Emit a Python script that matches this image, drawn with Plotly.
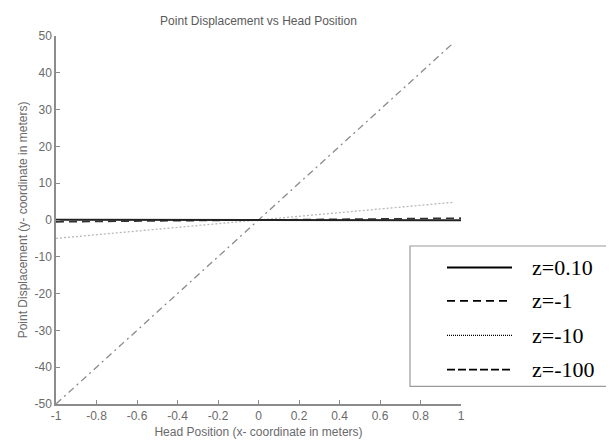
import plotly.graph_objects as go

# Data
head_x = [-1.0, -0.5, 0.0, 0.5, 0.96]
head_x_full = [-1.0, -0.5, 0.0, 0.5, 1.0]
disp_z010 = [0.05, 0.03, 0.0, -0.03, -0.05]
disp_z1 = [-0.5, -0.25, 0.0, 0.25, 0.5]
disp_z10 = [-5.0, -2.5, 0.0, 2.5, 4.8]
disp_z100 = [-50.0, -25.0, 0.0, 25.0, 48.0]
series_names = ["z=0.10", "z=-1", "z=-10", "z=-100"]
x_ticks = [-1, -0.8, -0.6, -0.4, -0.2, 0, 0.2, 0.4, 0.6, 0.8, 1]
x_tick_labels = ["-1", "-0.8", "-0.6", "-0.4", "-0.2", "0", "0.2", "0.4", "0.6", "0.8", "1"]
y_ticks = [50, 40, 30, 20, 10, 0, -10, -20, -30, -40, -50]
y_tick_labels = ["50", "40", "30", "20", "10", "0", "-10", "-20", "-30", "-40", "-50"]

W, H = 614, 441
L, R, T, B = 48, 453, 28, 403
FONT = "Liberation Sans, Arial, Helvetica"
TXT = "#6a6a6a"

fig = go.Figure()
fig.add_trace(go.Scatter(x=head_x, y=disp_z100, mode="lines",
                         line=dict(color="#8a8a8a", width=1.3, dash="7px,4px,2px,4px"), name=series_names[3]))
fig.add_trace(go.Scatter(x=head_x, y=disp_z10, mode="lines",
                         line=dict(color="#b8b8b8", width=1.3, dash="2px,2px"), name=series_names[2]))
fig.add_trace(go.Scatter(x=head_x_full, y=disp_z1, mode="lines",
                         line=dict(color="#333333", width=1.6, dash="8px,5px"), name=series_names[1]))
fig.add_trace(go.Scatter(x=head_x_full, y=disp_z010, mode="lines",
                         line=dict(color="#222222", width=2), name=series_names[0]))

axis_common = dict(showgrid=False, zeroline=False, showline=True, linecolor="#8c8c8c", linewidth=1.5,
                   ticks="inside", ticklen=4, tickcolor="#8c8c8c", mirror=False,
                   tickfont=dict(family=FONT, size=12, color=TXT))

fig.update_xaxes(range=[-1, 1], tickvals=x_ticks, ticktext=x_tick_labels,
                 title=dict(text="Head Position (x- coordinate in meters)",
                            font=dict(family=FONT, size=12, color=TXT), standoff=5),
                 **axis_common)
fig.update_yaxes(range=[-50, 50], tickvals=y_ticks, ticktext=y_tick_labels,
                 title=dict(text="Point Displacement (y- coordinate in meters)",
                            font=dict(family=FONT, size=12, color=TXT), standoff=4),
                 **axis_common)

def px_x(v):
    return (v - L) / (R - L)

def px_y(v):
    return (B - v) / (B - T)

shapes = []
# legend box
shapes.append(dict(type="rect", xref="paper", yref="paper",
                   x0=px_x(402), x1=px_x(613), y0=px_y(385), y1=px_y(242),
                   line=dict(color="#9a9a9a", width=1.2), fillcolor="white", layer="above"))
entry_y = [264, 298, 333, 368]
dashes = ["solid", "8px,5px", "1px,1px", "8px,3px"]
widths = [2, 1.8, 1.2, 1.8]
for i, name in enumerate(series_names):
    shapes.append(dict(type="line", xref="paper", yref="paper",
                       x0=px_x(439), x1=px_x(504), y0=px_y(entry_y[i]), y1=px_y(entry_y[i]),
                       line=dict(color="black", width=widths[i], dash=dashes[i]), layer="above"))
annotations = []
for i, name in enumerate(series_names):
    annotations.append(dict(text=name, xref="paper", yref="paper",
                            x=px_x(522), y=px_y(entry_y[i]), xanchor="left", yanchor="middle",
                            showarrow=False,
                            font=dict(family="Liberation Serif, Times New Roman", size=22, color="black")))

fig.update_layout(
    width=W, height=H,
    margin=dict(l=L, r=W - R, t=T, b=H - B),
    plot_bgcolor="white", paper_bgcolor="white",
    showlegend=False,
    title=dict(text="Point Displacement vs Head Position", x=(L + R) / 2 / W, xanchor="center",
               y=1 - 13 / H, yanchor="middle",
               font=dict(family=FONT, size=12, color="#5a5a5a")),
    shapes=shapes, annotations=annotations,
)

fig.write_html("out.html")
